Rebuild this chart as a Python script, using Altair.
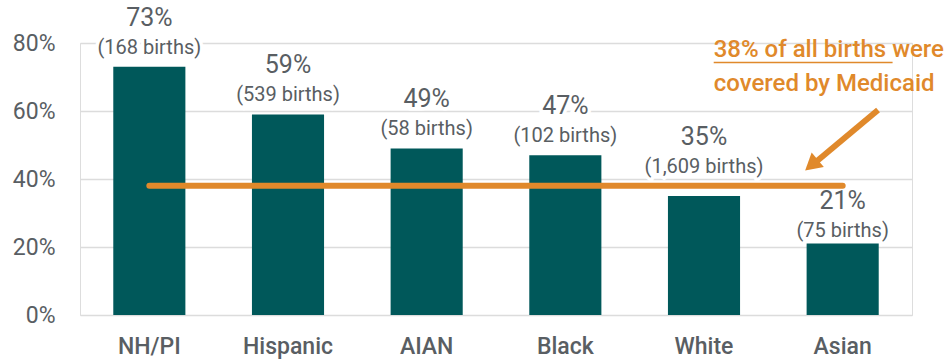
import altair as alt
import pandas as pd

categories = ["NH/PI", "Hispanic", "AIAN", "Black", "White", "Asian"]
shares = [73, 59, 49, 47, 35, 21]
births = ["168", "539", "58", "102", "1,609", "75"]
all_births_share = 38
annotation_lines = ["38% of all births were", "covered by Medicaid"]

FONT = "Roboto, sans-serif"
TEAL = "#00585A"
ORANGE = "#E0892B"
GRAY = "#595E63"

df = pd.DataFrame({
    "category": categories,
    "share": shares,
    "pct_label": [f"{s}%" for s in shares],
    "births_label": [f"({b} births)" for b in births],
})

W, H = 832, 272
xscale = alt.Scale(domain=categories, paddingInner=0.48, paddingOuter=0.24)
yscale = alt.Scale(domain=[0, 80])

base = alt.Chart(df)

bars = base.mark_bar(color=TEAL).encode(
    x=alt.X("category:N", sort=categories, scale=xscale, title=None,
            axis=alt.Axis(labelFont=FONT, labelFontSize=23, labelColor=GRAY,
                          labelFontWeight=500, labelPadding=20, ticks=False,
                          domain=False, labelAngle=0)),
    y=alt.Y("share:Q", scale=yscale, title=None,
            axis=alt.Axis(values=[0, 20, 40, 60, 80], labelExpr="datum.value + '%'",
                          labelFont=FONT, labelFontSize=23, labelColor=GRAY,
                          labelPadding=25, ticks=False, domain=False,
                          gridColor="#DCDCDC", gridWidth=1.5)),
)

labeled = base.transform_calculate(
    label_y="datum.share + (datum.category == 'White' ? 3 : (datum.category == 'Asian' ? -2 : 0))"
)

def text_layer(field, size, dy, halo):
    kw = dict(font=FONT, fontSize=size, dy=dy, baseline="middle", align="center")
    if halo:
        m = labeled.mark_text(color="white", stroke="white", strokeWidth=7, **kw)
    else:
        m = labeled.mark_text(color=GRAY, **kw)
    return m.encode(
        x=alt.X("category:N", sort=categories, scale=xscale),
        y=alt.Y("label_y:Q", scale=yscale),
        text=f"{field}:N",
    )

avg_df = pd.DataFrame({"start": [categories[0]], "end": [categories[-1]], "share": [all_births_share]})
avg_line = alt.Chart(avg_df).mark_rule(color=ORANGE, strokeWidth=6, strokeCap="round").encode(
    x=alt.X("start:N", sort=categories, scale=xscale),
    x2="end:N",
    y=alt.Y("share:Q", scale=yscale),
)

cat_layer = alt.layer(
    bars,
    text_layer("births_label", 20, -19, True),
    text_layer("pct_label", 25, -49, True),
    text_layer("births_label", 20, -19, False),
    text_layer("pct_label", 25, -49, False),
    avg_line,
)

# annotation in a continuous slot coordinate (category i spans i..i+1)
ux = alt.Scale(domain=[0, 6])
ann_df = pd.DataFrame({"x": [4.57, 4.57], "y": [75.9, 66.0], "text": annotation_lines})
ann_text = alt.Chart(ann_df).mark_text(
    font=FONT, fontSize=24, fontWeight=500, color=ORANGE, align="left", baseline="alphabetic"
).encode(
    x=alt.X("x:Q", scale=ux, axis=None),
    y=alt.Y("y:Q", scale=yscale),
    text="text:N",
)
ul_df = pd.DataFrame({"x": [4.57], "x2": [5.86], "y": [74.3]})
underline = alt.Chart(ul_df).mark_rule(color=ORANGE, strokeWidth=1.5).encode(
    x=alt.X("x:Q", scale=ux, axis=None), x2="x2:Q", y=alt.Y("y:Q", scale=yscale)
)
arrow_df = pd.DataFrame({"x": [5.755], "x2": [5.30], "y": [60.3], "y2": [44.8]})
arrow_shaft = alt.Chart(arrow_df).mark_rule(color=ORANGE, strokeWidth=6).encode(
    x=alt.X("x:Q", scale=ux, axis=None), x2="x2:Q",
    y=alt.Y("y:Q", scale=yscale), y2="y2:Q",
)
head_df = pd.DataFrame({"x": [5.29], "y": [44.6]})
arrow_head = alt.Chart(head_df).mark_point(
    shape="triangle", filled=True, color=ORANGE, size=360, angle=230, opacity=1
).encode(
    x=alt.X("x:Q", scale=ux, axis=None),
    y=alt.Y("y:Q", scale=yscale),
)

ann_layer = alt.layer(ann_text, underline, arrow_shaft, arrow_head)

chart = alt.layer(cat_layer, ann_layer).resolve_scale(x="independent").properties(
    width=W, height=H,
    autosize=alt.AutoSizeParams(type="none"),
    padding={"left": 80, "top": 43, "right": 35, "bottom": 45},
).configure_view(stroke=None).configure(background="white")

chart.save("out.html", embed_options={"renderer": "svg", "actions": False})
